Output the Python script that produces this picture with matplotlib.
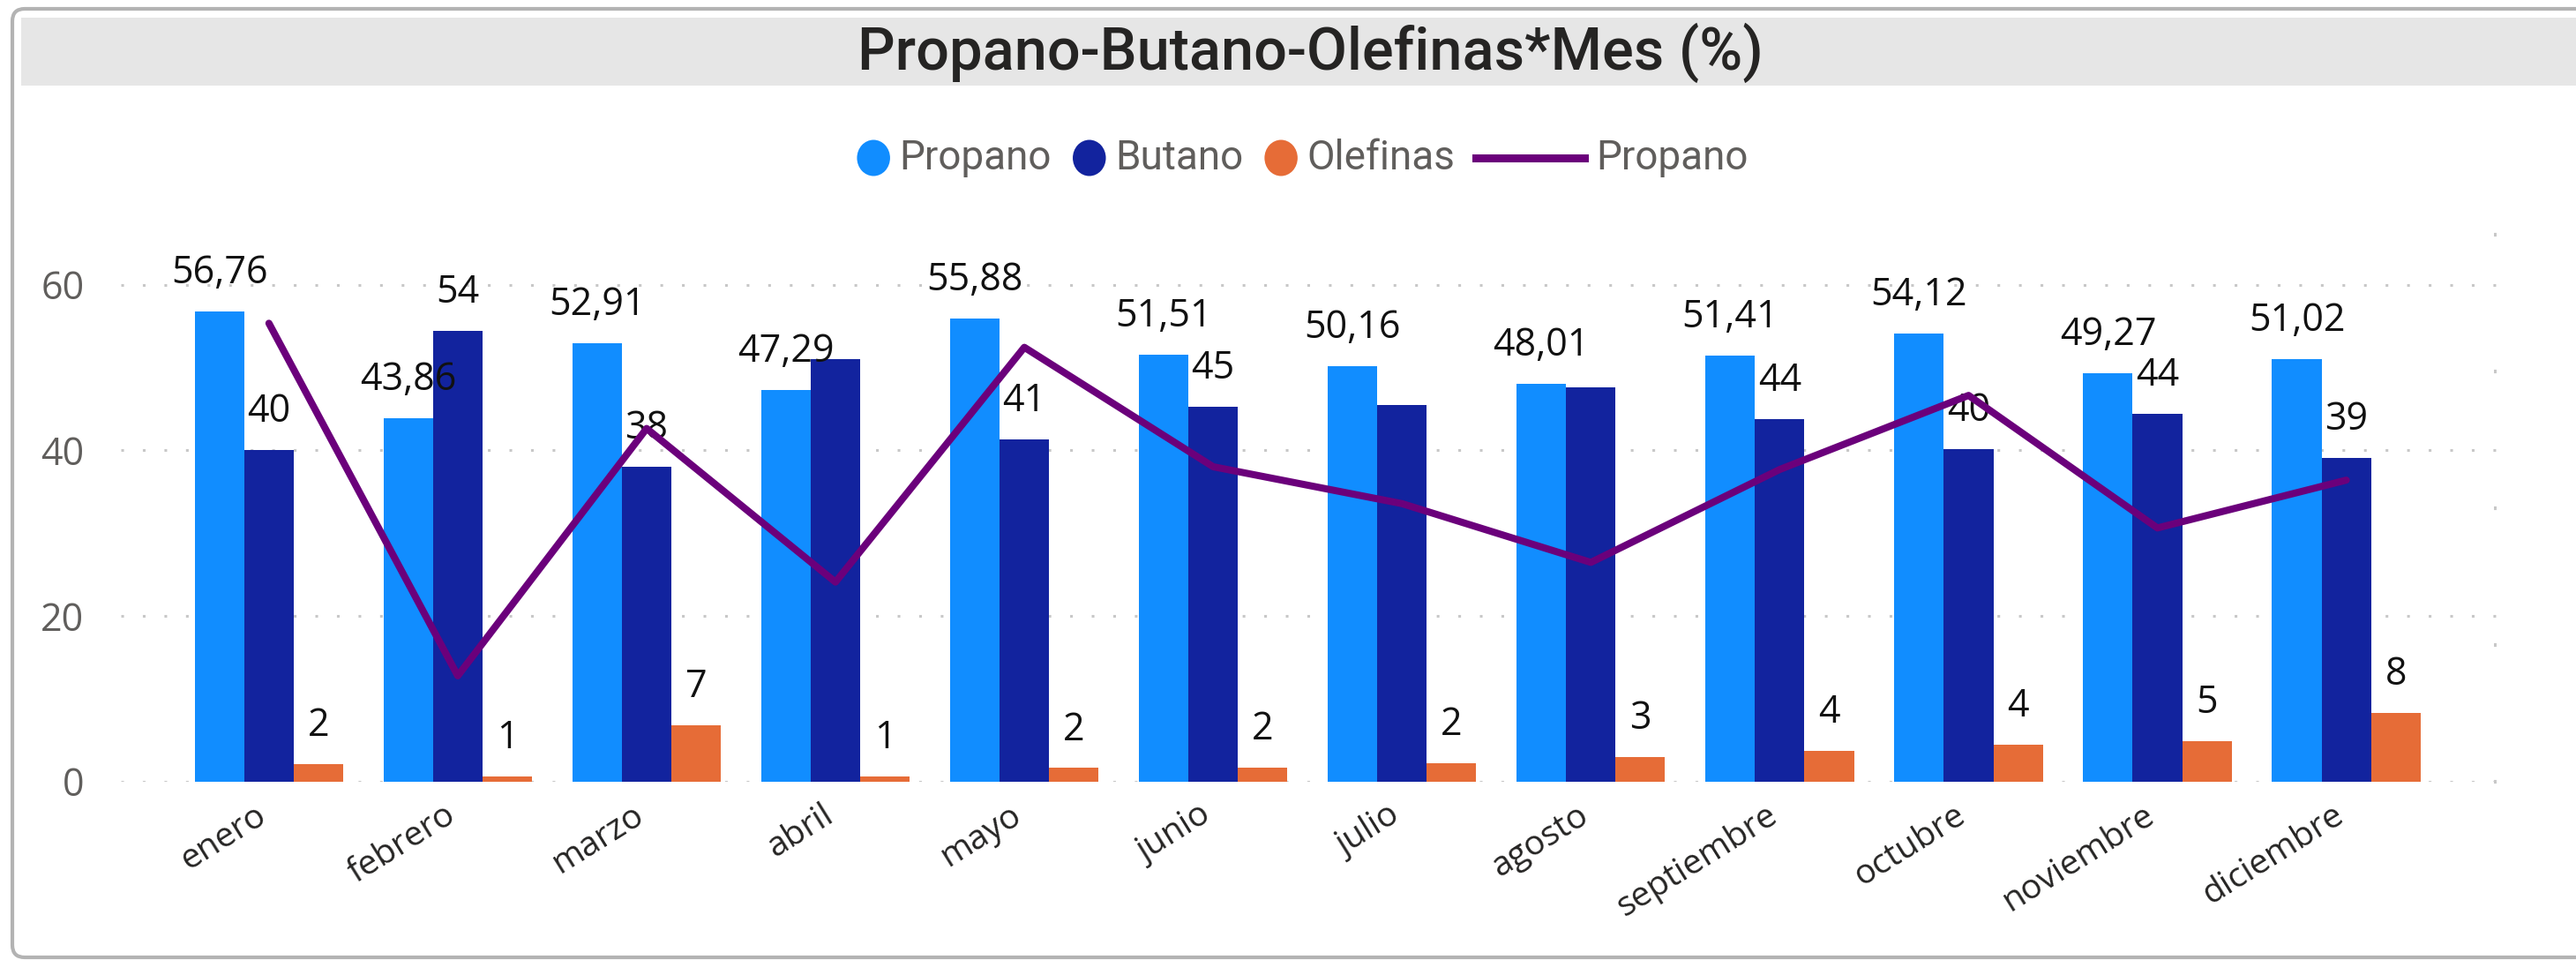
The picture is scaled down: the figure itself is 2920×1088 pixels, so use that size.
import matplotlib
matplotlib.use('Agg')
import matplotlib.pyplot as plt
import matplotlib.transforms as mtransforms
import numpy as np
from matplotlib.patches import FancyBboxPatch, Rectangle, Ellipse
from matplotlib.offsetbox import HPacker, TextArea, DrawingArea, AnchoredOffsetbox
from matplotlib.lines import Line2D

# ---------------- data ----------------
months = ['enero', 'febrero', 'marzo', 'abril', 'mayo', 'junio', 'julio',
          'agosto', 'septiembre', 'octubre', 'noviembre', 'diciembre']
propano = [56.76, 43.86, 52.91, 47.29, 55.88, 51.51, 50.16, 48.01, 51.41, 54.12, 49.27, 51.02]
butano = [40.0, 54.4, 38.0, 51.0, 41.3, 45.3, 45.5, 47.6, 43.8, 40.1, 44.4, 39.1]
olefinas = [2.1, 0.6, 6.8, 0.6, 1.6, 1.7, 2.2, 2.9, 3.7, 4.4, 4.9, 8.3]
butano_label_visible = [True, True, True, False, True, True, False, False, True, True, True, True]

series_names = ['Propano', 'Butano', 'Olefinas']
line_name = 'Propano'
title = 'Propano-Butano-Olefinas*Mes (%)'
yticks = [0, 20, 40, 60]
y2ticks = [40, 45, 50, 55, 60]

# ---------------- style ----------------
bar_colors = ['#118DFF', '#12239E', '#E66C37']
line_color = '#6B007B'
plt.rcParams['font.family'] = ['Open Sans', 'DejaVu Sans']

W, H = 2920, 1088
fig = plt.figure(figsize=(W / 100, H / 100), dpi=100)
fig.patch.set_facecolor('white')

ident = mtransforms.IdentityTransform()
# outer rounded border
fig.add_artist(FancyBboxPatch((14, 3), W + 40, H - 13, boxstyle='round,pad=0,rounding_size=14',
                              transform=ident, facecolor='white', edgecolor='#B3B3B3',
                              linewidth=3, zorder=0))
# title band
fig.add_artist(Rectangle((24, H - 97), W - 24, 77, transform=ident,
                         facecolor='#E6E6E6', edgecolor='none', zorder=1))
fig.text(1485 / W, 1 - 60 / H, title, ha='center', va='center', fontsize=48,
         family=['Roboto', 'DejaVu Sans'], fontweight='medium', color='#252423', zorder=2)

# ---------------- axes ----------------
y0_px, ytop_px, y60_px = 885.5, 266, 322.7
ax = fig.add_axes([137 / W, (H - y0_px) / H, (2830 - 137) / W, (y0_px - ytop_px) / H])
ax.set_facecolor('none')
x = np.arange(len(months))
bw = 0.262
offsets = [-bw, 0, bw]
values = [propano, butano, olefinas]
for vals, off, col, name in zip(values, offsets, bar_colors, series_names):
    ax.bar(x + off, vals, width=bw, color=col, label=name, zorder=2)

ax.set_xlim(-0.784, 11.796)
ax.set_ylim(0, 60 * (y0_px - ytop_px) / (y0_px - y60_px))
ax.set_yticks(yticks)
ax.yaxis.grid(True, color='#C8C8C8', linestyle=(0, (1, 7)), linewidth=2.2)
ax.set_axisbelow(True)
for s in ax.spines.values():
    s.set_visible(False)
ax.tick_params(axis='y', length=0, pad=30, labelsize=31, labelcolor='#605E5C')
ax.set_xticks(x)
ax.set_xticklabels(months, rotation=32, ha='right', rotation_mode='anchor',
                   fontsize=28, color='#252423')
ax.tick_params(axis='x', length=0, pad=14)
shift = mtransforms.ScaledTranslation(-16 / 100, 0, fig.dpi_scale_trans)
for lab in ax.get_xticklabels():
    lab.set_transform(lab.get_transform() + shift)

# data labels
lab_kw = dict(textcoords='offset points', xytext=(0, 23), ha='center', va='baseline',
              fontsize=31, color='#111111', zorder=5)
for i in x:
    ax.annotate(f'{propano[i]:.2f}'.replace('.', ','), (i + offsets[0], propano[i]), **lab_kw)
    if butano_label_visible[i]:
        ax.annotate(f'{round(butano[i]):d}', (i + offsets[1], butano[i]), **lab_kw)
    ax.annotate(f'{round(olefinas[i]):d}', (i + offsets[2], olefinas[i]), **lab_kw)

# secondary axis line
ax2 = ax.twinx()
ax2.plot(x, propano, color=line_color, linewidth=5.8, solid_joinstyle='round',
         solid_capstyle='round', zorder=3)
ax2.set_ylim(40, 60)
ax2.set_yticks(y2ticks)
ax2.tick_params(axis='y', direction='in', length=2, width=3, color='#C8C8C8',
                labelright=False)
for s in ax2.spines.values():
    s.set_visible(False)

# ---------------- legend ----------------
txt_props = dict(fontsize=33, color='#605E5C', family=['Roboto', 'DejaVu Sans'])
items = []
for name, col in zip(series_names, bar_colors):
    da = DrawingArea(28, 30, 0, 0)
    da.add_artist(Ellipse((14, 15), 27, 29.5, facecolor=col, edgecolor='none'))
    items.append(HPacker(children=[da, TextArea(name, textprops=txt_props)],
                         sep=7, pad=0, align='center'))
dl = DrawingArea(89, 30, 0, 0)
dl.add_artist(Line2D([0, 89], [15, 15], color=line_color, linewidth=6.5))
items.append(HPacker(children=[dl, TextArea(line_name, textprops=txt_props)],
                     sep=9, pad=0, align='center'))
legend_box = HPacker(children=items, sep=17, pad=0, align='center')
anch = AnchoredOffsetbox(loc='center', child=legend_box, pad=0, borderpad=0, frameon=False,
                         bbox_to_anchor=(1476 / W, 1 - 179 / H), bbox_transform=fig.transFigure)
fig.add_artist(anch)

fig.savefig('out.png', dpi=100, facecolor='white')
